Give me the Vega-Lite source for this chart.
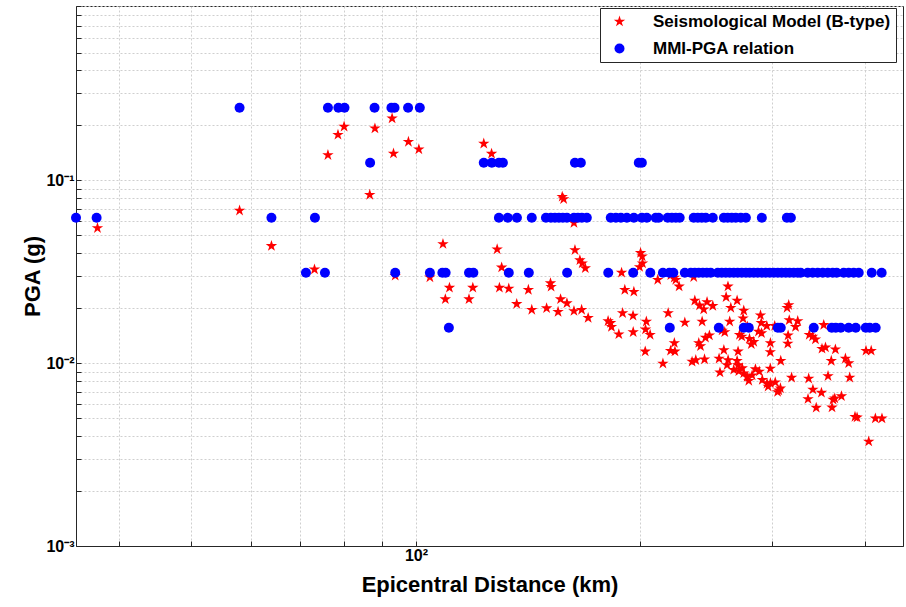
{
  "$schema": "https://vega.github.io/schema/vega-lite/v6.json",
  "width": 827,
  "height": 540,
  "autosize": "none",
  "padding": {"left": 76, "top": 6, "right": 3, "bottom": 61},
  "background": "white",
  "config": {
    "view": {"stroke": "#262626", "strokeWidth": 1},
    "axis": {
      "gridColor": "#cfcfcf", "gridDash": [2, 2], "gridWidth": 1,
      "domainColor": "#262626", "ticks": true, "tickSize": -5, "tickColor": "#262626",
      "labelFont": "Liberation Sans", "labelFontWeight": "bold", "labelFontSize": 16, "labelColor": "black",
      "titleFont": "Liberation Sans", "titleFontWeight": "bold", "titleFontSize": 22, "titleColor": "black",
      "labelFlush": false, "labelOverlap": false
    },
    "legend": {
      "orient": "none", "legendX": 524, "legendY": 2, "direction": "vertical",
      "strokeColor": "#262626", "fillColor": "white", "padding": 5,
      "symbolOffset": 6, "labelOffset": 25, "rowPadding": 9,
      "labelFont": "Liberation Sans", "labelFontSize": 17, "labelFontWeight": "bold", "labelColor": "black",
      "labelLimit": 400, "symbolSize": 100
    }
  },
  "data": {
    "values": [
      {"s": "Seismological Model (B-type)", "d": 37.4, "p": 0.0549},
      {"s": "Seismological Model (B-type)", "d": 58.0, "p": 0.0684},
      {"s": "Seismological Model (B-type)", "d": 64.0, "p": 0.0438},
      {"s": "Seismological Model (B-type)", "d": 73.1, "p": 0.0326},
      {"s": "Seismological Model (B-type)", "d": 76.2, "p": 0.1377},
      {"s": "Seismological Model (B-type)", "d": 78.6, "p": 0.1778},
      {"s": "Seismological Model (B-type)", "d": 80.1, "p": 0.197},
      {"s": "Seismological Model (B-type)", "d": 86.7, "p": 0.0834},
      {"s": "Seismological Model (B-type)", "d": 88.1, "p": 0.1926},
      {"s": "Seismological Model (B-type)", "d": 92.9, "p": 0.2186},
      {"s": "Seismological Model (B-type)", "d": 93.3, "p": 0.1404},
      {"s": "Seismological Model (B-type)", "d": 97.7, "p": 0.1626},
      {"s": "Seismological Model (B-type)", "d": 100.9, "p": 0.148},
      {"s": "Seismological Model (B-type)", "d": 93.8, "p": 0.0301},
      {"s": "Seismological Model (B-type)", "d": 104.4, "p": 0.0295},
      {"s": "Seismological Model (B-type)", "d": 108.7, "p": 0.0449},
      {"s": "Seismological Model (B-type)", "d": 110.9, "p": 0.0259},
      {"s": "Seismological Model (B-type)", "d": 109.5, "p": 0.0224},
      {"s": "Seismological Model (B-type)", "d": 119.2, "p": 0.0259},
      {"s": "Seismological Model (B-type)", "d": 117.8, "p": 0.0224},
      {"s": "Seismological Model (B-type)", "d": 123.3, "p": 0.159},
      {"s": "Seismological Model (B-type)", "d": 126.3, "p": 0.140},
      {"s": "Seismological Model (B-type)", "d": 128.5, "p": 0.0420},
      {"s": "Seismological Model (B-type)", "d": 130.3, "p": 0.0334},
      {"s": "Seismological Model (B-type)", "d": 129.4, "p": 0.0259},
      {"s": "Seismological Model (B-type)", "d": 133.2, "p": 0.0256},
      {"s": "Seismological Model (B-type)", "d": 136.5, "p": 0.0211},
      {"s": "Seismological Model (B-type)", "d": 141.5, "p": 0.0252},
      {"s": "Seismological Model (B-type)", "d": 143.0, "p": 0.0196},
      {"s": "Seismological Model (B-type)", "d": 149.7, "p": 0.0200},
      {"s": "Seismological Model (B-type)", "d": 151.5, "p": 0.0274},
      {"s": "Seismological Model (B-type)", "d": 151.8, "p": 0.0262},
      {"s": "Seismological Model (B-type)", "d": 155.1, "p": 0.0191},
      {"s": "Seismological Model (B-type)", "d": 156.3, "p": 0.0224},
      {"s": "Seismological Model (B-type)", "d": 159.4, "p": 0.0213},
      {"s": "Seismological Model (B-type)", "d": 157.1, "p": 0.0814},
      {"s": "Seismological Model (B-type)", "d": 157.8, "p": 0.0791},
      {"s": "Seismological Model (B-type)", "d": 162.9, "p": 0.0586},
      {"s": "Seismological Model (B-type)", "d": 163.4, "p": 0.0416},
      {"s": "Seismological Model (B-type)", "d": 165.9, "p": 0.0366},
      {"s": "Seismological Model (B-type)", "d": 167.1, "p": 0.0352},
      {"s": "Seismological Model (B-type)", "d": 168.7, "p": 0.0331},
      {"s": "Seismological Model (B-type)", "d": 162.9, "p": 0.0193},
      {"s": "Seismological Model (B-type)", "d": 166.8, "p": 0.0196},
      {"s": "Seismological Model (B-type)", "d": 170.2, "p": 0.0177},
      {"s": "Seismological Model (B-type)", "d": 181.0, "p": 0.0170},
      {"s": "Seismological Model (B-type)", "d": 182.4, "p": 0.0166},
      {"s": "Seismological Model (B-type)", "d": 182.9, "p": 0.0158},
      {"s": "Seismological Model (B-type)", "d": 187.1, "p": 0.0144},
      {"s": "Seismological Model (B-type)", "d": 189.3, "p": 0.0188},
      {"s": "Seismological Model (B-type)", "d": 188.7, "p": 0.0313},
      {"s": "Seismological Model (B-type)", "d": 190.6, "p": 0.0252},
      {"s": "Seismological Model (B-type)", "d": 196.0, "p": 0.0246},
      {"s": "Seismological Model (B-type)", "d": 195.5, "p": 0.0182},
      {"s": "Seismological Model (B-type)", "d": 195.6, "p": 0.0148},
      {"s": "Seismological Model (B-type)", "d": 200.1, "p": 0.0401},
      {"s": "Seismological Model (B-type)", "d": 201.1, "p": 0.0384},
      {"s": "Seismological Model (B-type)", "d": 201.3, "p": 0.0352},
      {"s": "Seismological Model (B-type)", "d": 199.5, "p": 0.0336},
      {"s": "Seismological Model (B-type)", "d": 203.7, "p": 0.0169},
      {"s": "Seismological Model (B-type)", "d": 203.2, "p": 0.0153},
      {"s": "Seismological Model (B-type)", "d": 206.1, "p": 0.0143},
      {"s": "Seismological Model (B-type)", "d": 203.0, "p": 0.0116},
      {"s": "Seismological Model (B-type)", "d": 211.0, "p": 0.0286},
      {"s": "Seismological Model (B-type)", "d": 219.7, "p": 0.0303},
      {"s": "Seismological Model (B-type)", "d": 222.1, "p": 0.0294},
      {"s": "Seismological Model (B-type)", "d": 223.1, "p": 0.0286},
      {"s": "Seismological Model (B-type)", "d": 225.4, "p": 0.0263},
      {"s": "Seismological Model (B-type)", "d": 235.8, "p": 0.0296},
      {"s": "Seismological Model (B-type)", "d": 217.9, "p": 0.0188},
      {"s": "Seismological Model (B-type)", "d": 229.4, "p": 0.0167},
      {"s": "Seismological Model (B-type)", "d": 236.6, "p": 0.0220},
      {"s": "Seismological Model (B-type)", "d": 240.1, "p": 0.0207},
      {"s": "Seismological Model (B-type)", "d": 243.2, "p": 0.0197},
      {"s": "Seismological Model (B-type)", "d": 245.7, "p": 0.0216},
      {"s": "Seismological Model (B-type)", "d": 250.1, "p": 0.0206},
      {"s": "Seismological Model (B-type)", "d": 242.0, "p": 0.0169},
      {"s": "Seismological Model (B-type)", "d": 262.1, "p": 0.0263},
      {"s": "Seismological Model (B-type)", "d": 260.6, "p": 0.0230},
      {"s": "Seismological Model (B-type)", "d": 264.4, "p": 0.0201},
      {"s": "Seismological Model (B-type)", "d": 269.6, "p": 0.0220},
      {"s": "Seismological Model (B-type)", "d": 263.5, "p": 0.0169},
      {"s": "Seismological Model (B-type)", "d": 275.2, "p": 0.0194},
      {"s": "Seismological Model (B-type)", "d": 274.6, "p": 0.0176},
      {"s": "Seismological Model (B-type)", "d": 278.2, "p": 0.0159},
      {"s": "Seismological Model (B-type)", "d": 289.8, "p": 0.0183},
      {"s": "Seismological Model (B-type)", "d": 290.5, "p": 0.0166},
      {"s": "Seismological Model (B-type)", "d": 295.5, "p": 0.0160},
      {"s": "Seismological Model (B-type)", "d": 302.8, "p": 0.0160},
      {"s": "Seismological Model (B-type)", "d": 316.2, "p": 0.0208},
      {"s": "Seismological Model (B-type)", "d": 314.6, "p": 0.0201},
      {"s": "Seismological Model (B-type)", "d": 316.7, "p": 0.0172},
      {"s": "Seismological Model (B-type)", "d": 325.1, "p": 0.0170},
      {"s": "Seismological Model (B-type)", "d": 322.9, "p": 0.0158},
      {"s": "Seismological Model (B-type)", "d": 352.3, "p": 0.0162},
      {"s": "Seismological Model (B-type)", "d": 257.4, "p": 0.0151},
      {"s": "Seismological Model (B-type)", "d": 259.5, "p": 0.0148},
      {"s": "Seismological Model (B-type)", "d": 247.5, "p": 0.0142},
      {"s": "Seismological Model (B-type)", "d": 244.5, "p": 0.0138},
      {"s": "Seismological Model (B-type)", "d": 222.1, "p": 0.0129},
      {"s": "Seismological Model (B-type)", "d": 219.5, "p": 0.0117},
      {"s": "Seismological Model (B-type)", "d": 222.5, "p": 0.0116},
      {"s": "Seismological Model (B-type)", "d": 239.5, "p": 0.0129},
      {"s": "Seismological Model (B-type)", "d": 240.8, "p": 0.0124},
      {"s": "Seismological Model (B-type)", "d": 271.6, "p": 0.0143},
      {"s": "Seismological Model (B-type)", "d": 273.5, "p": 0.0140},
      {"s": "Seismological Model (B-type)", "d": 280.1, "p": 0.0136},
      {"s": "Seismological Model (B-type)", "d": 283.8, "p": 0.0131},
      {"s": "Seismological Model (B-type)", "d": 281.7, "p": 0.0127},
      {"s": "Seismological Model (B-type)", "d": 288.0, "p": 0.0149},
      {"s": "Seismological Model (B-type)", "d": 290.7, "p": 0.0146},
      {"s": "Seismological Model (B-type)", "d": 298.8, "p": 0.0129},
      {"s": "Seismological Model (B-type)", "d": 298.7, "p": 0.0115},
      {"s": "Seismological Model (B-type)", "d": 315.6, "p": 0.0142},
      {"s": "Seismological Model (B-type)", "d": 315.3, "p": 0.0128},
      {"s": "Seismological Model (B-type)", "d": 336.9, "p": 0.0143},
      {"s": "Seismological Model (B-type)", "d": 340.3, "p": 0.0140},
      {"s": "Seismological Model (B-type)", "d": 343.4, "p": 0.0135},
      {"s": "Seismological Model (B-type)", "d": 350.4, "p": 0.0120},
      {"s": "Seismological Model (B-type)", "d": 354.2, "p": 0.0122},
      {"s": "Seismological Model (B-type)", "d": 365.2, "p": 0.0119},
      {"s": "Seismological Model (B-type)", "d": 401.4, "p": 0.0117},
      {"s": "Seismological Model (B-type)", "d": 407.9, "p": 0.0117},
      {"s": "Seismological Model (B-type)", "d": 214.4, "p": 0.00996},
      {"s": "Seismological Model (B-type)", "d": 234.6, "p": 0.0102},
      {"s": "Seismological Model (B-type)", "d": 237.3, "p": 0.0104},
      {"s": "Seismological Model (B-type)", "d": 243.8, "p": 0.0105},
      {"s": "Seismological Model (B-type)", "d": 255.0, "p": 0.0106},
      {"s": "Seismological Model (B-type)", "d": 258.8, "p": 0.0118},
      {"s": "Seismological Model (B-type)", "d": 262.2, "p": 0.0104},
      {"s": "Seismological Model (B-type)", "d": 261.4, "p": 0.00977},
      {"s": "Seismological Model (B-type)", "d": 269.6, "p": 0.0103},
      {"s": "Seismological Model (B-type)", "d": 270.4, "p": 0.0116},
      {"s": "Seismological Model (B-type)", "d": 270.4, "p": 0.00975},
      {"s": "Seismological Model (B-type)", "d": 255.7, "p": 0.00890},
      {"s": "Seismological Model (B-type)", "d": 266.8, "p": 0.00921},
      {"s": "Seismological Model (B-type)", "d": 271.0, "p": 0.00904},
      {"s": "Seismological Model (B-type)", "d": 275.2, "p": 0.00881},
      {"s": "Seismological Model (B-type)", "d": 278.0, "p": 0.00841},
      {"s": "Seismological Model (B-type)", "d": 279.5, "p": 0.00801},
      {"s": "Seismological Model (B-type)", "d": 282.4, "p": 0.00859},
      {"s": "Seismological Model (B-type)", "d": 285.3, "p": 0.00927},
      {"s": "Seismological Model (B-type)", "d": 288.7, "p": 0.00901},
      {"s": "Seismological Model (B-type)", "d": 291.4, "p": 0.00811},
      {"s": "Seismological Model (B-type)", "d": 295.7, "p": 0.00774},
      {"s": "Seismological Model (B-type)", "d": 296.7, "p": 0.00745},
      {"s": "Seismological Model (B-type)", "d": 298.7, "p": 0.00935},
      {"s": "Seismological Model (B-type)", "d": 303.3, "p": 0.00786},
      {"s": "Seismological Model (B-type)", "d": 305.5, "p": 0.00696},
      {"s": "Seismological Model (B-type)", "d": 306.6, "p": 0.00711},
      {"s": "Seismological Model (B-type)", "d": 308.2, "p": 0.00729},
      {"s": "Seismological Model (B-type)", "d": 308.5, "p": 0.0103},
      {"s": "Seismological Model (B-type)", "d": 319.0, "p": 0.00834},
      {"s": "Seismological Model (B-type)", "d": 336.3, "p": 0.00824},
      {"s": "Seismological Model (B-type)", "d": 340.7, "p": 0.00718},
      {"s": "Seismological Model (B-type)", "d": 349.8, "p": 0.00690},
      {"s": "Seismological Model (B-type)", "d": 335.6, "p": 0.00637},
      {"s": "Seismological Model (B-type)", "d": 344.2, "p": 0.00571},
      {"s": "Seismological Model (B-type)", "d": 357.0, "p": 0.00851},
      {"s": "Seismological Model (B-type)", "d": 360.6, "p": 0.0103},
      {"s": "Seismological Model (B-type)", "d": 376.7, "p": 0.0106},
      {"s": "Seismological Model (B-type)", "d": 380.5, "p": 0.0100},
      {"s": "Seismological Model (B-type)", "d": 381.7, "p": 0.00834},
      {"s": "Seismological Model (B-type)", "d": 362.6, "p": 0.00632},
      {"s": "Seismological Model (B-type)", "d": 364.5, "p": 0.00642},
      {"s": "Seismological Model (B-type)", "d": 361.4, "p": 0.00573},
      {"s": "Seismological Model (B-type)", "d": 372.1, "p": 0.00660},
      {"s": "Seismological Model (B-type)", "d": 388.0, "p": 0.00509},
      {"s": "Seismological Model (B-type)", "d": 390.5, "p": 0.00505},
      {"s": "Seismological Model (B-type)", "d": 413.2, "p": 0.00499},
      {"s": "Seismological Model (B-type)", "d": 421.7, "p": 0.00499},
      {"s": "Seismological Model (B-type)", "d": 404.8, "p": 0.00373},
      {"s": "Seismological Model (B-type)", "d": 298.8, "p": 0.00779},
      {"s": "Seismological Model (B-type)", "d": 273.9, "p": 0.00939},
      {"s": "MMI-PGA relation", "d": 58.0, "p": 0.25},
      {"s": "MMI-PGA relation", "d": 76.2, "p": 0.25},
      {"s": "MMI-PGA relation", "d": 78.7, "p": 0.25},
      {"s": "MMI-PGA relation", "d": 80.2, "p": 0.25},
      {"s": "MMI-PGA relation", "d": 88.0, "p": 0.25},
      {"s": "MMI-PGA relation", "d": 92.7, "p": 0.25},
      {"s": "MMI-PGA relation", "d": 93.6, "p": 0.25},
      {"s": "MMI-PGA relation", "d": 97.6, "p": 0.25},
      {"s": "MMI-PGA relation", "d": 101.2, "p": 0.25},
      {"s": "MMI-PGA relation", "d": 86.8, "p": 0.125},
      {"s": "MMI-PGA relation", "d": 123.3, "p": 0.125},
      {"s": "MMI-PGA relation", "d": 126.4, "p": 0.125},
      {"s": "MMI-PGA relation", "d": 129.2, "p": 0.125},
      {"s": "MMI-PGA relation", "d": 130.8, "p": 0.125},
      {"s": "MMI-PGA relation", "d": 163.4, "p": 0.125},
      {"s": "MMI-PGA relation", "d": 166.4, "p": 0.125},
      {"s": "MMI-PGA relation", "d": 199.0, "p": 0.125},
      {"s": "MMI-PGA relation", "d": 200.9, "p": 0.125},
      {"s": "MMI-PGA relation", "d": 35.0, "p": 0.0625},
      {"s": "MMI-PGA relation", "d": 37.3, "p": 0.0625},
      {"s": "MMI-PGA relation", "d": 64.0, "p": 0.0625},
      {"s": "MMI-PGA relation", "d": 73.2, "p": 0.0625},
      {"s": "MMI-PGA relation", "d": 129.2, "p": 0.0625},
      {"s": "MMI-PGA relation", "d": 132.8, "p": 0.0625},
      {"s": "MMI-PGA relation", "d": 136.6, "p": 0.0625},
      {"s": "MMI-PGA relation", "d": 143.0, "p": 0.0625},
      {"s": "MMI-PGA relation", "d": 149.4, "p": 0.0625},
      {"s": "MMI-PGA relation", "d": 151.7, "p": 0.0625},
      {"s": "MMI-PGA relation", "d": 153.6, "p": 0.0625},
      {"s": "MMI-PGA relation", "d": 155.5, "p": 0.0625},
      {"s": "MMI-PGA relation", "d": 157.4, "p": 0.0625},
      {"s": "MMI-PGA relation", "d": 159.4, "p": 0.0625},
      {"s": "MMI-PGA relation", "d": 162.9, "p": 0.0625},
      {"s": "MMI-PGA relation", "d": 164.9, "p": 0.0625},
      {"s": "MMI-PGA relation", "d": 166.9, "p": 0.0625},
      {"s": "MMI-PGA relation", "d": 169.5, "p": 0.0625},
      {"s": "MMI-PGA relation", "d": 182.5, "p": 0.0625},
      {"s": "MMI-PGA relation", "d": 185.4, "p": 0.0625},
      {"s": "MMI-PGA relation", "d": 188.3, "p": 0.0625},
      {"s": "MMI-PGA relation", "d": 191.8, "p": 0.0625},
      {"s": "MMI-PGA relation", "d": 196.0, "p": 0.0625},
      {"s": "MMI-PGA relation", "d": 200.9, "p": 0.0625},
      {"s": "MMI-PGA relation", "d": 204.0, "p": 0.0625},
      {"s": "MMI-PGA relation", "d": 209.7, "p": 0.0625},
      {"s": "MMI-PGA relation", "d": 211.6, "p": 0.0625},
      {"s": "MMI-PGA relation", "d": 217.6, "p": 0.0625},
      {"s": "MMI-PGA relation", "d": 220.4, "p": 0.0625},
      {"s": "MMI-PGA relation", "d": 223.1, "p": 0.0625},
      {"s": "MMI-PGA relation", "d": 225.8, "p": 0.0625},
      {"s": "MMI-PGA relation", "d": 235.8, "p": 0.0625},
      {"s": "MMI-PGA relation", "d": 238.8, "p": 0.0625},
      {"s": "MMI-PGA relation", "d": 241.7, "p": 0.0625},
      {"s": "MMI-PGA relation", "d": 244.7, "p": 0.0625},
      {"s": "MMI-PGA relation", "d": 250.1, "p": 0.0625},
      {"s": "MMI-PGA relation", "d": 258.8, "p": 0.0625},
      {"s": "MMI-PGA relation", "d": 261.9, "p": 0.0625},
      {"s": "MMI-PGA relation", "d": 265.2, "p": 0.0625},
      {"s": "MMI-PGA relation", "d": 268.5, "p": 0.0625},
      {"s": "MMI-PGA relation", "d": 272.7, "p": 0.0625},
      {"s": "MMI-PGA relation", "d": 277.0, "p": 0.0625},
      {"s": "MMI-PGA relation", "d": 291.0, "p": 0.0625},
      {"s": "MMI-PGA relation", "d": 314.4, "p": 0.0625},
      {"s": "MMI-PGA relation", "d": 318.3, "p": 0.0625},
      {"s": "MMI-PGA relation", "d": 71.2, "p": 0.03125},
      {"s": "MMI-PGA relation", "d": 75.5, "p": 0.03125},
      {"s": "MMI-PGA relation", "d": 93.8, "p": 0.03125},
      {"s": "MMI-PGA relation", "d": 104.4, "p": 0.03125},
      {"s": "MMI-PGA relation", "d": 108.5, "p": 0.03125},
      {"s": "MMI-PGA relation", "d": 109.6, "p": 0.03125},
      {"s": "MMI-PGA relation", "d": 117.8, "p": 0.03125},
      {"s": "MMI-PGA relation", "d": 119.4, "p": 0.03125},
      {"s": "MMI-PGA relation", "d": 133.2, "p": 0.03125},
      {"s": "MMI-PGA relation", "d": 141.7, "p": 0.03125},
      {"s": "MMI-PGA relation", "d": 159.5, "p": 0.03125},
      {"s": "MMI-PGA relation", "d": 181.1, "p": 0.03125},
      {"s": "MMI-PGA relation", "d": 195.6, "p": 0.03125},
      {"s": "MMI-PGA relation", "d": 206.2, "p": 0.03125},
      {"s": "MMI-PGA relation", "d": 214.4, "p": 0.03125},
      {"s": "MMI-PGA relation", "d": 218.7, "p": 0.03125},
      {"s": "MMI-PGA relation", "d": 221.4, "p": 0.03125},
      {"s": "MMI-PGA relation", "d": 229.4, "p": 0.03125},
      {"s": "MMI-PGA relation", "d": 233.7, "p": 0.03125},
      {"s": "MMI-PGA relation", "d": 236.6, "p": 0.03125},
      {"s": "MMI-PGA relation", "d": 239.5, "p": 0.03125},
      {"s": "MMI-PGA relation", "d": 242.5, "p": 0.03125},
      {"s": "MMI-PGA relation", "d": 245.5, "p": 0.03125},
      {"s": "MMI-PGA relation", "d": 248.5, "p": 0.03125},
      {"s": "MMI-PGA relation", "d": 254.0, "p": 0.03125},
      {"s": "MMI-PGA relation", "d": 257.1, "p": 0.03125},
      {"s": "MMI-PGA relation", "d": 260.3, "p": 0.03125},
      {"s": "MMI-PGA relation", "d": 263.5, "p": 0.03125},
      {"s": "MMI-PGA relation", "d": 266.8, "p": 0.03125},
      {"s": "MMI-PGA relation", "d": 270.1, "p": 0.03125},
      {"s": "MMI-PGA relation", "d": 273.5, "p": 0.03125},
      {"s": "MMI-PGA relation", "d": 277.0, "p": 0.03125},
      {"s": "MMI-PGA relation", "d": 280.3, "p": 0.03125},
      {"s": "MMI-PGA relation", "d": 283.8, "p": 0.03125},
      {"s": "MMI-PGA relation", "d": 287.3, "p": 0.03125},
      {"s": "MMI-PGA relation", "d": 291.0, "p": 0.03125},
      {"s": "MMI-PGA relation", "d": 294.5, "p": 0.03125},
      {"s": "MMI-PGA relation", "d": 298.2, "p": 0.03125},
      {"s": "MMI-PGA relation", "d": 301.9, "p": 0.03125},
      {"s": "MMI-PGA relation", "d": 305.7, "p": 0.03125},
      {"s": "MMI-PGA relation", "d": 309.4, "p": 0.03125},
      {"s": "MMI-PGA relation", "d": 313.3, "p": 0.03125},
      {"s": "MMI-PGA relation", "d": 317.1, "p": 0.03125},
      {"s": "MMI-PGA relation", "d": 321.1, "p": 0.03125},
      {"s": "MMI-PGA relation", "d": 325.1, "p": 0.03125},
      {"s": "MMI-PGA relation", "d": 328.1, "p": 0.03125},
      {"s": "MMI-PGA relation", "d": 335.3, "p": 0.03125},
      {"s": "MMI-PGA relation", "d": 340.5, "p": 0.03125},
      {"s": "MMI-PGA relation", "d": 345.8, "p": 0.03125},
      {"s": "MMI-PGA relation", "d": 351.2, "p": 0.03125},
      {"s": "MMI-PGA relation", "d": 356.7, "p": 0.03125},
      {"s": "MMI-PGA relation", "d": 362.2, "p": 0.03125},
      {"s": "MMI-PGA relation", "d": 366.7, "p": 0.03125},
      {"s": "MMI-PGA relation", "d": 374.7, "p": 0.03125},
      {"s": "MMI-PGA relation", "d": 380.5, "p": 0.03125},
      {"s": "MMI-PGA relation", "d": 386.4, "p": 0.03125},
      {"s": "MMI-PGA relation", "d": 392.5, "p": 0.03125},
      {"s": "MMI-PGA relation", "d": 408.6, "p": 0.03125},
      {"s": "MMI-PGA relation", "d": 421.3, "p": 0.03125},
      {"s": "MMI-PGA relation", "d": 110.7, "p": 0.015625},
      {"s": "MMI-PGA relation", "d": 219.0, "p": 0.015625},
      {"s": "MMI-PGA relation", "d": 254.8, "p": 0.015625},
      {"s": "MMI-PGA relation", "d": 275.2, "p": 0.015625},
      {"s": "MMI-PGA relation", "d": 279.5, "p": 0.015625},
      {"s": "MMI-PGA relation", "d": 305.7, "p": 0.015625},
      {"s": "MMI-PGA relation", "d": 308.5, "p": 0.015625},
      {"s": "MMI-PGA relation", "d": 341.6, "p": 0.015625},
      {"s": "MMI-PGA relation", "d": 361.1, "p": 0.015625},
      {"s": "MMI-PGA relation", "d": 365.6, "p": 0.015625},
      {"s": "MMI-PGA relation", "d": 371.3, "p": 0.015625},
      {"s": "MMI-PGA relation", "d": 380.5, "p": 0.015625},
      {"s": "MMI-PGA relation", "d": 388.9, "p": 0.015625},
      {"s": "MMI-PGA relation", "d": 401.1, "p": 0.015625},
      {"s": "MMI-PGA relation", "d": 406.1, "p": 0.015625},
      {"s": "MMI-PGA relation", "d": 413.6, "p": 0.015625}
    ]
  },
  "mark": {"type": "point", "filled": true, "opacity": 1, "size": 100},
  "encoding": {
    "x": {
      "field": "d", "type": "quantitative",
      "scale": {"type": "log", "domain": [35, 450], "nice": false},
      "axis": {
        "values": [40, 50, 60, 70, 80, 90, 100, 200, 300, 400],
        "labelExpr": "datum.value == 100 ? '10²' : ''",
        "title": "Epicentral Distance (km)",
        "grid": true, "labelPadding": 6, "titlePadding": 11
      }
    },
    "y": {
      "field": "p", "type": "quantitative",
      "scale": {"type": "log", "domain": [0.001, 0.9], "nice": false},
      "axis": {
        "values": [0.001, 0.002, 0.003, 0.004, 0.005, 0.006, 0.007, 0.008, 0.009, 0.01, 0.02, 0.03, 0.04, 0.05, 0.06, 0.07, 0.08, 0.09, 0.1, 0.2, 0.3, 0.4, 0.5, 0.6, 0.7, 0.8, 0.9],
        "labelExpr": "datum.value == 0.1 ? '10⁻¹' : datum.value == 0.01 ? '10⁻²' : datum.value == 0.001 ? '10⁻³' : ''",
        "title": "PGA (g)",
        "grid": true, "labelPadding": 7,
        "titleX": -44, "titleY": 270, "titleAngle": -90, "titleAlign": "center", "titleBaseline": "middle"
      }
    },
    "color": {
      "field": "s", "type": "nominal", "title": null,
      "scale": {"domain": ["Seismological Model (B-type)", "MMI-PGA relation"], "range": ["#ff0000", "#0000ff"]}
    },
    "shape": {
      "field": "s", "type": "nominal", "title": null,
      "scale": {"domain": ["Seismological Model (B-type)", "MMI-PGA relation"], "range": ["M0,-1.2L0.269,-0.371L1.141,-0.371L0.436,0.142L0.706,0.971L0,0.458L-0.706,0.971L-0.436,0.142L-1.141,-0.371L-0.269,-0.371Z", "circle"]}
    }
  }
}
